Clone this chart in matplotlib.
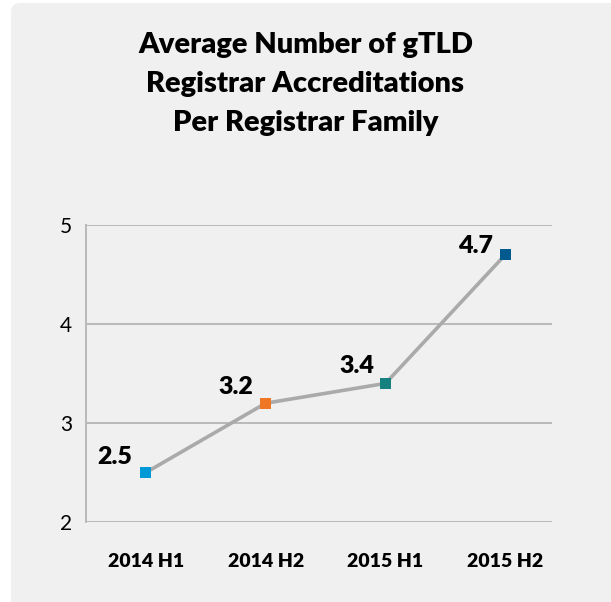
import matplotlib
matplotlib.use("Agg")
import matplotlib.pyplot as plt
from matplotlib.patches import FancyBboxPatch

# data
periods = ["2014 H1", "2014 H2", "2015 H1", "2015 H2"]
avg_accreditations = [2.5, 3.2, 3.4, 4.7]
marker_colors = ["#0099d8", "#ee7624", "#17817f", "#015a8d"]
yticks = [2, 3, 4, 5]

plt.rcParams['font.family'] = ['Lato', 'DejaVu Sans']

fig = plt.figure(figsize=(6.11, 6.02), dpi=100)
fig.patch.set_facecolor("white")

# light grey rounded panel behind everything
panel = FancyBboxPatch((11 / 611, -0.05), 1.2, 1.0 - 3 / 602 + 0.05,
                       boxstyle="round,pad=0,rounding_size=0.015",
                       transform=fig.transFigure, facecolor="#f0f0f0",
                       edgecolor="none", zorder=-5)
fig.patches.append(panel)

ax = fig.add_axes([86 / 611, 1 - 522 / 602, (552 - 86) / 611, (522 - 225) / 602])
ax.set_facecolor("none")

x = list(range(len(periods)))
ax.plot(x, avg_accreditations, color="#aaaaaa", lw=2.6, zorder=3)
ax.scatter(x, avg_accreditations, marker="s", s=64, c=marker_colors,
           zorder=4, linewidths=0)

# label offsets in pixels (left and above each marker)
offsets = [(-31, 15), (-30, 16), (-29, 17), (-30, 9)]
for xi, v, off in zip(x, avg_accreditations, offsets):
    ax.annotate(f"{v}", (xi, v), xytext=off, textcoords="offset pixels",
                ha="center", va="center", fontsize=18, fontweight="heavy",
                color="black", zorder=5)

ax.set_xlim(-0.5, 3.39)
ax.set_ylim(2, 5)
ax.set_yticks(yticks)
ax.set_xticks(x)
ax.set_xticklabels(periods, fontsize=14, fontweight="heavy")
ax.tick_params(axis="y", labelsize=15, length=0, pad=10)
ax.tick_params(axis="x", length=0, pad=22)
ax.grid(axis="y", color="#b9b9b9", lw=1.4)
ax.set_axisbelow(True)
for s in ["top", "right", "bottom"]:
    ax.spines[s].set_visible(False)
ax.spines["left"].set_color("#b9b9b9")
ax.spines["left"].set_linewidth(1.4)

fig.text(0.5, 1 - 84 / 602,
         "Average Number of gTLD\nRegistrar Accreditations\nPer Registrar Family",
         ha="center", va="center", fontsize=21, fontweight="heavy",
         linespacing=1.6)

fig.savefig("out.png", dpi=100, facecolor=fig.get_facecolor())
